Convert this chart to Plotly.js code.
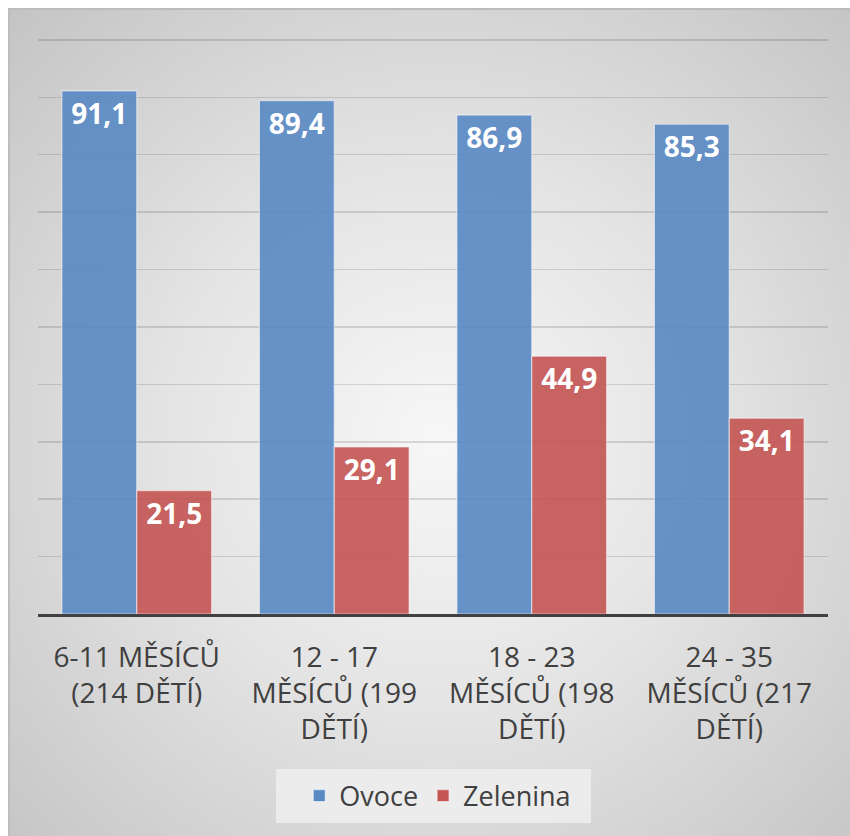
<!DOCTYPE html>
<html>
<head>
<meta charset="utf-8">
<script src="https://cdn.plot.ly/plotly-3.0.1.min.js"></script>
<style>
  html, body { margin: 0; padding: 0; background: #ffffff; }
  #wrap { position: relative; width: 850px; height: 836px; overflow: hidden; }
  #frame {
    position: absolute; left: 8px; top: 8px; width: 842px; height: 828px;
    background: radial-gradient(circle farthest-corner at 51% 52%, #f7f7f7 0%, #e4e4e4 45%, #c4c4c4 100%);
    border-top: 2px solid #bcbcbc; border-left: 2px solid #bdbdbd;
    box-sizing: border-box;
  }
  #chart { position: absolute; left: 0; top: 0; width: 850px; height: 836px; }
</style>
</head>
<body>
<div id="wrap">
  <div id="frame"></div>
  <div id="chart"></div>
</div>
<script>
// Age groups (with number of children surveyed)
const categories = [
  '6-11 MĚSÍCŮ<br>(214 DĚTÍ)',
  '12 - 17<br>MĚSÍCŮ (199<br>DĚTÍ)',
  '18 - 23<br>MĚSÍCŮ (198<br>DĚTÍ)',
  '24 - 35<br>MĚSÍCŮ (217<br>DĚTÍ)'
];
const seriesNames = ['Ovoce', 'Zelenina'];
const ovoce = [91.1, 89.4, 86.9, 85.3];
const zelenina = [21.5, 29.1, 44.9, 34.1];
const gridValues = [0, 10, 20, 30, 40, 50, 60, 70, 80, 90, 100];

const labelFont = { family: '"Open Sans", "Noto Sans", sans-serif', size: 28, color: '#ffffff', weight: 700 };

function barTrace(name, values, color) {
  return {
    type: 'bar',
    name: name,
    x: categories,
    y: values,
    marker: { color: color, opacity: 0.9, line: { color: 'rgba(255,255,255,0.55)', width: 1.2 } },
    texttemplate: '<b>%{y:.1f}</b>',
    textposition: 'inside',
    insidetextanchor: 'end',
    constraintext: 'none',
    textangle: 0,
    textfont: labelFont,
    hoverinfo: 'skip'
  };
}

const data = [
  barTrace(seriesNames[0], ovoce, '#5889c4'),
  barTrace(seriesNames[1], zelenina, '#c45553')
];

const layout = {
  width: 850,
  height: 836,
  separators: ', ',
  paper_bgcolor: 'rgba(0,0,0,0)',
  plot_bgcolor: 'rgba(0,0,0,0)',
  margin: { l: 38, r: 22, t: 37, b: 222 },
  barmode: 'group',
  bargap: 0.242,
  bargroupgap: 0,
  showlegend: true,
  legend: {
    orientation: 'h',
    x: 0.506, xanchor: 'center',
    xref: 'paper',
    y: -0.3154, yanchor: 'middle',
    bgcolor: 'rgba(0,0,0,0)',
    font: { family: '"Open Sans", "Noto Sans", sans-serif', size: 27, color: '#404040' },
    itemclick: false,
    tracegroupgap: 0
  },
  // light panel behind the legend
  shapes: [{
    type: 'rect', xref: 'paper', yref: 'paper', layer: 'below',
    x0: 0.3013, x1: 0.70, y0: -0.2686, y1: -0.3622,
    fillcolor: 'rgba(238,238,238,0.85)', line: { width: 0 }
  }],
  xaxis: {
    type: 'category',
    showline: true,
    linecolor: '#404040',
    linewidth: 3,
    ticks: '',
    ticklabelstandoff: 16,
    showgrid: false,
    zeroline: false,
    tickfont: { family: '"Open Sans", "Noto Sans", sans-serif', size: 28, color: '#404040' },
    fixedrange: true
  },
  yaxis: {
    range: [0, 100.5],
    tickvals: gridValues,
    showticklabels: false,
    showgrid: true,
    gridcolor: 'rgba(0,0,0,0.13)',
    gridwidth: 1.5,
    zeroline: false,
    ticks: '',
    fixedrange: true
  }
};

Plotly.newPlot('chart', data, layout, { displayModeBar: false, staticPlot: true });
</script>
</body>
</html>
